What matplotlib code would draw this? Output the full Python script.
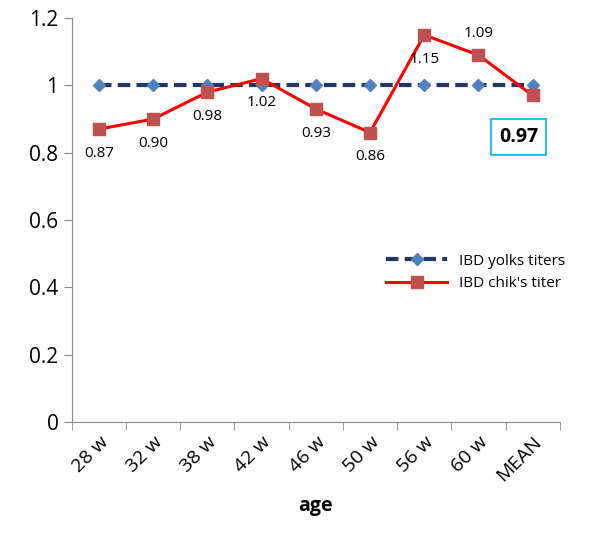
import matplotlib.pyplot as plt

plt.rcParams['font.family'] = ['Open Sans', 'DejaVu Sans']

ages = ['28 w', '32 w', '38 w', '42 w', '46 w', '50 w', '56 w', '60 w', 'MEAN']
yolks = [1, 1, 1, 1, 1, 1, 1, 1, 1]
chik = [0.87, 0.90, 0.98, 1.02, 0.93, 0.86, 1.15, 1.09, 0.97]

fig = plt.figure(figsize=(5.93, 5.48), dpi=100)
ax = fig.add_axes([0.121, 0.23, 0.823, 0.737])
x = list(range(len(ages)))

ax.plot(x, yolks, color='#1F3864', linestyle=(0, (3, 1.5)), linewidth=3,
        marker='D', markersize=6, markerfacecolor='#4F81BD', markeredgecolor='#4F81BD',
        label='IBD yolks titers')
ax.plot(x, chik, color='#FF0000', linewidth=2.2, marker='s', markersize=8,
        markerfacecolor='#C0504D', markeredgecolor='#C0504D', label="IBD chik's titer")

for i, v in enumerate(chik[:-1]):
    if i == 7:
        ax.annotate(f'{v:.2f}', (i, v), xytext=(0, 10), textcoords='offset points',
                    ha='center', va='bottom', fontsize=11)
    else:
        ax.annotate(f'{v:.2f}', (i, v), xytext=(0, -12), textcoords='offset points',
                    ha='center', va='top', fontsize=11)
ax.annotate(f'{chik[-1]:.2f}', (8, chik[-1]), xytext=(-10, -30), textcoords='offset points',
            ha='center', va='center', fontsize=14, fontweight='bold',
            bbox=dict(boxstyle='square,pad=0.4', facecolor='white', edgecolor='#00B0F0', linewidth=1.2))

ax.set_xlim(-0.5, 8.5)
ax.set_ylim(0, 1.2)
ax.set_yticks([0, 0.2, 0.4, 0.6, 0.8, 1, 1.2])
ax.set_yticklabels(['0', '0.2', '0.4', '0.6', '0.8', '1', '1.2'], fontsize=15)
ax.set_xticks(x)
ax.set_xticklabels(ages, rotation=45, ha='right', rotation_mode='anchor', fontsize=14)
ax.set_xticks([i - 0.5 for i in range(len(ages) + 1)], minor=True)
ax.tick_params(axis='x', which='major', length=0, pad=8)
ax.tick_params(axis='x', which='minor', length=6, color='#888888')
ax.tick_params(axis='y', length=6, color='#888888')
for s in ['top', 'right']:
    ax.spines[s].set_visible(False)
for s in ['left', 'bottom']:
    ax.spines[s].set_color('#888888')
ax.set_xlabel('age', fontsize=14, fontweight='bold', labelpad=8)
ax.legend(loc='center right', bbox_to_anchor=(1.04, 0.37), frameon=False, fontsize=11,
          handlelength=4)

fig.savefig('out.png', dpi=100)
